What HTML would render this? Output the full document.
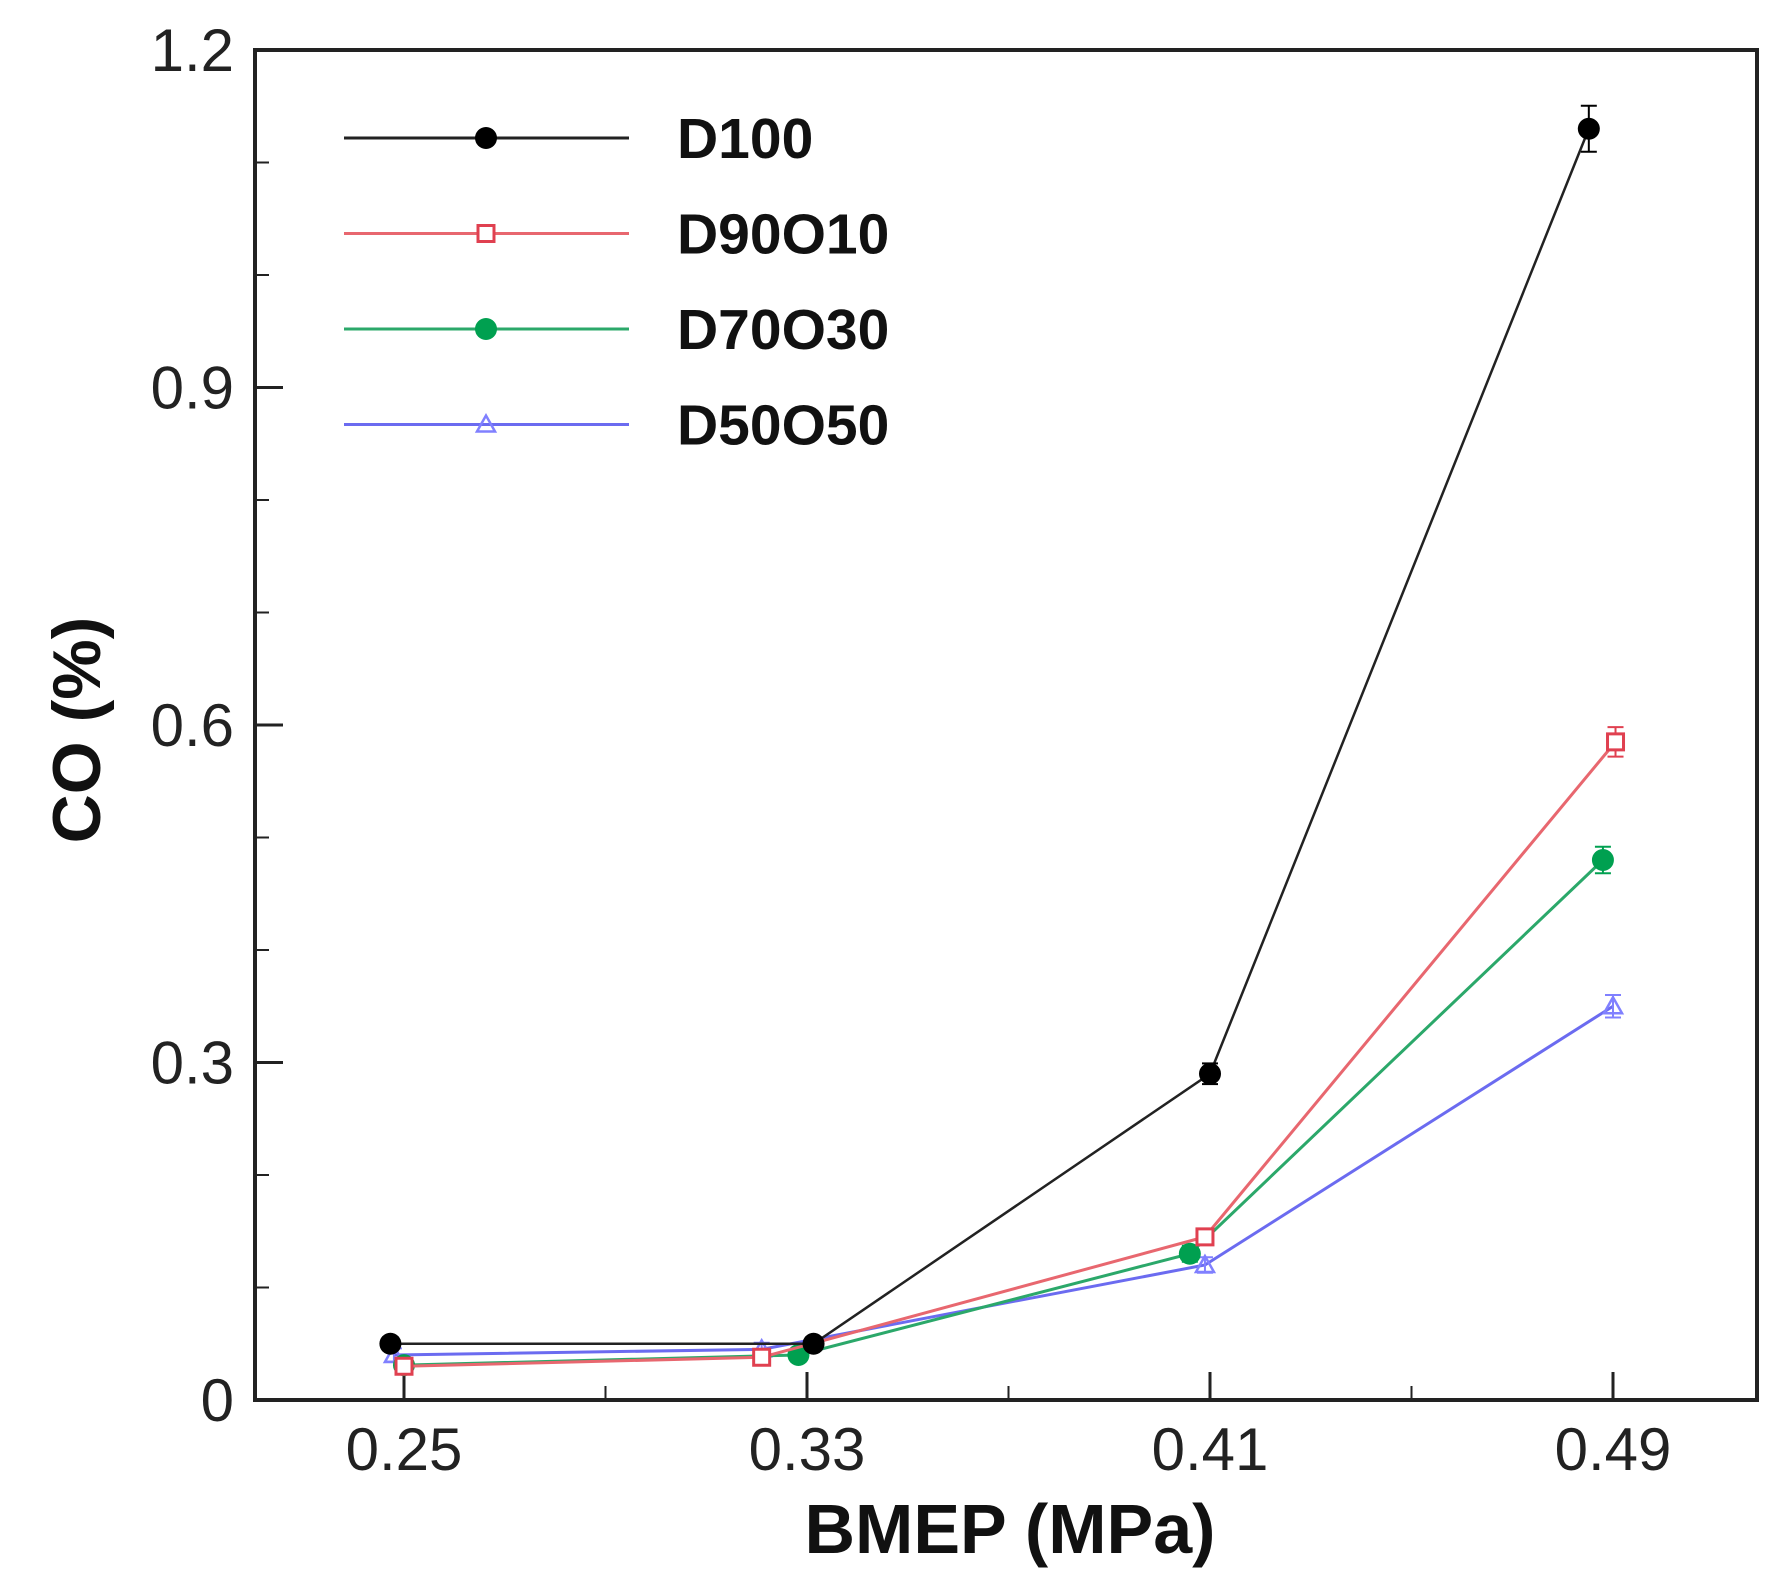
<!DOCTYPE html>
<html><head><meta charset="utf-8"><style>
html,body{margin:0;padding:0;background:#fff;}
svg{display:block;font-family:"Liberation Sans",Arial,sans-serif;}
</style></head><body>
<svg id="chart" width="1791" height="1591" viewBox="0 0 1791 1591"></svg>
<script>
const xTicks=[0.25,0.33,0.41,0.49];
const xTickLabels=["0.25","0.33","0.41","0.49"];
const yTicks=[0,0.3,0.6,0.9,1.2];
const yTickLabels=["0","0.3","0.6","0.9","1.2"];
const seriesNames=["D100","D90O10","D70O30","D50O50"];
const d100X=[0.2473,0.3313,0.41,0.4852];
const d100Y=[0.05,0.05,0.29,1.13];
const d90X=[0.25,0.321,0.409,0.4905];
const d90Y=[0.03,0.038,0.145,0.585];
const d70X=[0.25,0.3283,0.406,0.488];
const d70Y=[0.031,0.04,0.13,0.48];
const d50X=[0.248,0.321,0.409,0.49];
const d50Y=[0.04,0.045,0.12,0.35];

const L=255,R=1757,T=50,B=1400;
const X=v=>404+(v-0.25)*(1613-404)/0.24;
const Y=v=>B-v*(B-T)/1.2;
const NS="http://www.w3.org/2000/svg";
const svg=document.getElementById('chart');
function mk(tag,attrs,parent){const e=document.createElementNS(NS,tag);for(const k in attrs)e.setAttribute(k,attrs[k]);(parent||svg).appendChild(e);return e;}

const axes=mk('g',{});


for(let v=0.1;v<1.2;v+=0.1){mk('line',{x1:L,x2:L+14,y1:Y(v),y2:Y(v),stroke:'#222','stroke-width':2},axes);}
for(let i=0;i<3;i++){const v=(xTicks[i]+xTicks[i+1])/2;mk('line',{x1:X(v),x2:X(v),y1:B,y2:B-14,stroke:'#222','stroke-width':2},axes);}
yTicks.forEach((v,i)=>{
  mk('line',{x1:L,x2:L+28,y1:Y(v),y2:Y(v),stroke:'#222','stroke-width':3},axes);
  const t=mk('text',{x:234,y:Y(v)+21,'text-anchor':'end','font-size':60,fill:'#222'},axes);
  t.textContent=yTickLabels[i];
  
  
});
xTicks.forEach((v,i)=>{
  mk('line',{x1:X(v),x2:X(v),y1:B,y2:B-28,stroke:'#222','stroke-width':3},axes);
  const t=mk('text',{x:X(v),y:1470,'text-anchor':'middle','font-size':60,fill:'#222'},axes);
  t.textContent=xTickLabels[i];
  
  
});
mk('rect',{x:L,y:T,width:R-L,height:B-T,fill:'none',stroke:'#222','stroke-width':4},axes);
const xt=mk('text',{x:1010,y:1553,'text-anchor':'middle','font-size':70,'font-weight':'bold',fill:'#111'});
xt.textContent='BMEP (MPa)';


const yt=mk('text',{x:0,y:0,'text-anchor':'middle','font-size':68,'font-weight':'bold',fill:'#111',transform:'translate(100,730) rotate(-90)'});
yt.textContent='CO (%)';



const colors=['#222','#e8676f','#2ba86a','#6b6bf0'];
const markerColors=['#000','#e04050','#00a050','#8080ff'];
const xs=[d100X,d90X,d70X,d50X], ys=[d100Y,d90Y,d70Y,d50Y];
function marker(i,cx,cy,g){
  if(i===0||i===2) mk('circle',{cx,cy,r:11,fill:markerColors[i]},g);
  else if(i===1) mk('rect',{x:cx-8,y:cy-8,width:16,height:16,fill:'#fff',stroke:markerColors[i],'stroke-width':3},g);
  else mk('polygon',{points:`${cx},${cy-9} ${cx-9},${cy+7} ${cx+9},${cy+7}`,fill:'none',stroke:markerColors[i],'stroke-width':2.5},g);
}
[3,2,1,0].forEach(i=>{
  const g=mk('g',{});
  
  
  const pts=xs[i].map((v,j)=>X(v)+','+Y(ys[i][j])).join(' ');
  mk('polyline',{points:pts,fill:'none',stroke:colors[i],'stroke-width':i===0?2.5:3},g);
  xs[i].forEach((v,j)=>{
    const cx=X(v),cy=Y(ys[i][j]),e=6+ys[i][j]*15;
    mk('line',{x1:cx,x2:cx,y1:cy-e,y2:cy+e,stroke:markerColors[i],'stroke-width':2},g);
    mk('line',{x1:cx-8,x2:cx+8,y1:cy-e,y2:cy-e,stroke:markerColors[i],'stroke-width':2},g);
    mk('line',{x1:cx-8,x2:cx+8,y1:cy+e,y2:cy+e,stroke:markerColors[i],'stroke-width':2},g);
    marker(i,cx,cy,g);
  });
});
const lg=mk('g',{});


seriesNames.forEach((n,i)=>{
  const y=138+i*95.5;
  const e=mk('g',{},lg);
  
  
  mk('line',{x1:344,x2:629,y1:y,y2:y,stroke:colors[i],'stroke-width':3},e);
  marker(i,486,y,e);
  const t=mk('text',{x:677,y:y+20,'font-size':57,'font-weight':'bold',fill:'#111'},e);
  t.textContent=n;
});
</script>
</body></html>
